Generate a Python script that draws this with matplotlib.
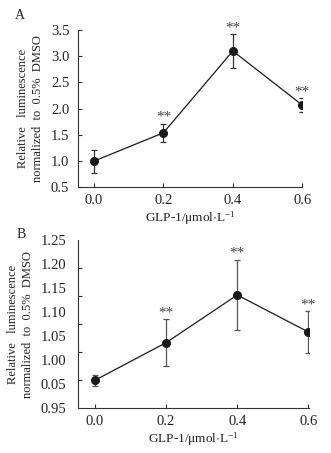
import numpy as np
import matplotlib
matplotlib.use('Agg')
import matplotlib.pyplot as plt
from matplotlib.ticker import FixedLocator

plt.rcParams['font.family'] = ['Liberation Serif', 'DejaVu Serif']
plt.rcParams['mathtext.fontset'] = 'stix'

# Data
dose = [0.0, 0.2, 0.4, 0.6]
dose_labels = ['0.0', '0.2', '0.4', '0.6']

lum_a = [1.00, 1.54, 3.10, 2.07]
err_a = [0.22, 0.175, 0.32, 0.13]
sig_a = ['', '**', '**', '**']
yticks_a = [0.5, 1.0, 1.5, 2.0, 2.5, 3.0, 3.5]

lum_b = [1.000, 1.067, 1.152, 1.086]
err_b = [0.010, 0.042, 0.063, 0.037]
sig_b = ['', '**', '**', '**']
# the original panel B prints 8 labels over 7 ticks (including the "0.05" typo)
ylabels_b = ['0.95', '0.05', '1.00', '1.05', '1.10', '1.15', '1.20', '1.25']
yticks_b = [0.95, 1.00, 1.05, 1.10, 1.15, 1.20, 1.25]

ylabel = 'Relative   luminescence\nnormalized  to  0.5%  DMSO'
xlabel = r'GLP-1/$\mathregular{\mu}$mol$\cdot$L$^{\mathregular{-1}}$'

fig = plt.figure(figsize=(3.31, 4.53), dpi=100)
ax1 = fig.add_axes([0.2347, 0.5865, 0.679, 0.3472])
ax2 = fig.add_axes([0.2347, 0.0987, 0.699, 0.3715])


def style(ax):
    for s in ['top', 'right']:
        ax.spines[s].set_visible(False)
    for s in ['left', 'bottom']:
        ax.spines[s].set_color('#333333')
        ax.spines[s].set_linewidth(0.8)
    ax.tick_params(direction='in', length=3, width=0.8, color='#333333',
                   labelsize=10.5, labelcolor='#222222')
    ax.tick_params(axis='y', pad=6)
    ax.tick_params(axis='x', pad=5)
    ax.set_xticks(dose)
    ax.set_xticklabels(dose_labels)
    ax.set_xlabel(xlabel, fontsize=9.5, color='#222222', labelpad=2)


def draw(ax, y, e, sig, ecolor):
    ax.errorbar(dose, y, yerr=e, color='#1a1a1a', ecolor=ecolor, lw=0.9,
                elinewidth=0.9, capsize=2.5, capthick=0.9, marker='o',
                markersize=5.5, zorder=3)
    for x, v, d, s in zip(dose, y, e, sig):
        if s:
            ax.annotate(s, (x, v + d), xytext=(0, 0), textcoords='offset points',
                        ha='center', va='bottom', fontsize=11, color='#444444')


# Panel A
style(ax1)
draw(ax1, lum_a, err_a, sig_a, '#333333')
ax1.set_xlim(-0.047, 0.6006)
ax1.set_ylim(0.5, 3.5)
ax1.set_yticks(yticks_a)
ax1.set_yticklabels(['%.1f' % t for t in yticks_a])
ax1.set_ylabel(ylabel, fontsize=9, color='#222222', linespacing=1.35, labelpad=5)
fig.text(0.045, 0.965, 'A', fontsize=10, color='#222222', va='center')

# Panel B
style(ax2)
draw(ax2, lum_b, err_b, sig_b, '#555555')
ax2.set_xlim(-0.0487, 0.602)
ax2.set_ylim(0.95, 1.25)
ax2.yaxis.set_major_locator(FixedLocator(np.linspace(0.95, 1.25, len(ylabels_b))))
ax2.set_yticklabels(ylabels_b)
ax2.tick_params(axis='y', which='major', length=0, pad=8)
ax2.yaxis.set_minor_locator(FixedLocator(yticks_b))
ax2.tick_params(axis='y', which='minor', direction='in', length=3, width=0.8,
                color='#333333')
ax2.set_ylabel(ylabel, fontsize=9, color='#222222', linespacing=1.35, labelpad=5)
fig.text(0.05, 0.483, 'B', fontsize=10, color='#222222', va='center')

fig.savefig('out.png', dpi=100)
